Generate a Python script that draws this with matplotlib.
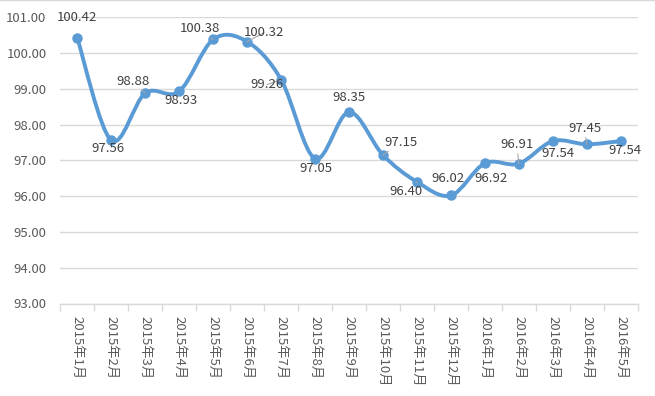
#!/usr/bin/env python3

import numpy as np
import matplotlib
matplotlib.use("Agg")
import matplotlib.pyplot as plt
from matplotlib.path import Path
from matplotlib.patches import PathPatch
from matplotlib.lines import Line2D

# ----------------------------
# Data
# ----------------------------
MONTHS = ["2015年1月", "2015年2月", "2015年3月", "2015年4月", "2015年5月", "2015年6月",
          "2015年7月", "2015年8月", "2015年9月", "2015年10月", "2015年11月", "2015年12月",
          "2016年1月", "2016年2月", "2016年3月", "2016年4月", "2016年5月"]
VALUES = [100.42, 97.56, 98.88, 98.93, 100.38, 100.32, 99.26, 97.05, 98.35,
          97.15, 96.40, 96.02, 96.92, 96.91, 97.54, 97.45, 97.54]
Y_TICKS = [93, 94, 95, 96, 97, 98, 99, 100, 101]

# label offsets from each point, in pixels (dx right, dy up)
LABEL_OFFSETS = [(0, 21), (-3, -8), (-12, 12), (2, -9), (-13, 11), (17, 9), (-14, -5),
                 (1, -10), (0, 15), (18, 13), (-11, -10), (-3, 17), (6, -15),
                 (-2, 19), (5, -12), (-2, 16), (4, -9)]
LEADERS = [False, False, True, False, True, True, True, False, False, True, True,
           False, False, True, False, True, False]

LINE_COLOR = "#5B9BD5"
GRID_COLOR = "#D9D9D9"
TEXT_COLOR = "#595959"
LABEL_COLOR = "#404040"

plt.rcParams['font.family'] = ['Noto Sans CJK SC', 'DejaVu Sans']


def smooth_path(xs, ys):
    # Bezier segments with Catmull-Rom style control points (like Excel's smoothed line)
    pts = np.column_stack([xs, ys]).astype(float)
    n = len(pts)
    verts = [pts[0]]
    codes = [Path.MOVETO]
    for i in range(n - 1):
        p0 = pts[i - 1] if i > 0 else pts[i]
        p1 = pts[i]
        p2 = pts[i + 1]
        p3 = pts[i + 2] if i + 2 < n else pts[i + 1]
        c1 = p1 + (p2 - p0) / 6.0
        c2 = p2 - (p3 - p1) / 6.0
        verts += [c1, c2, p2]
        codes += [Path.CURVE4] * 3
    return Path(verts, codes)


fig = plt.figure(figsize=(6.55, 3.96), dpi=100)
ax = fig.add_axes([60.3 / 655, 1 - 303.5 / 396, (637.7 - 60.3) / 655, (303.5 - 17.3) / 396])

x = np.arange(len(VALUES))
ax.add_patch(PathPatch(smooth_path(x, VALUES), facecolor="none", edgecolor=LINE_COLOR,
                       lw=2.8, capstyle="round", joinstyle="round", zorder=3))
ax.plot(x, VALUES, linestyle="none", marker="o", markersize=6.5, color=LINE_COLOR, zorder=4)

px = 0.72  # points per pixel at 100 dpi
for i, v in enumerate(VALUES):
    dx, dy = LABEL_OFFSETS[i]
    arrow = None
    if LEADERS[i]:
        arrow = dict(arrowstyle="-", color="#A6A6A6", lw=0.8, shrinkA=0, shrinkB=0)
    ax.annotate(f"{v:.2f}", (i, v), xytext=(dx * px, dy * px), textcoords="offset points",
                ha="center", va="center", fontsize=9.5, color=LABEL_COLOR,
                arrowprops=arrow, zorder=5)

ax.set_xlim(-0.5, len(VALUES) - 0.5)
ax.set_ylim(93, 101)
ax.set_yticks(Y_TICKS)
ax.set_yticklabels([f"{t:.2f}" for t in Y_TICKS])
ax.set_xticks(x)
ax.set_xticklabels(MONTHS, rotation=270, va="top", ha="center")
ax.set_xticks(np.arange(len(VALUES) + 1) - 0.5, minor=True)

ax.tick_params(axis="y", length=0, pad=10, labelsize=9.5, labelcolor=TEXT_COLOR)
ax.tick_params(axis="x", which="major", length=0, pad=9, labelsize=9.5, labelcolor=TEXT_COLOR)
ax.tick_params(axis="x", which="minor", length=5, width=1, color=GRID_COLOR)

ax.grid(axis="y", color=GRID_COLOR, lw=1)
ax.set_axisbelow(True)
for s in ["left", "right", "top"]:
    ax.spines[s].set_visible(False)
ax.spines["bottom"].set_color(GRID_COLOR)
ax.spines["bottom"].set_linewidth(1)

# thin border line along the top of the chart area
fig.add_artist(Line2D([0, 1], [0.999, 0.999], transform=fig.transFigure, color=GRID_COLOR, lw=1))

fig.savefig("out.png", dpi=100)
